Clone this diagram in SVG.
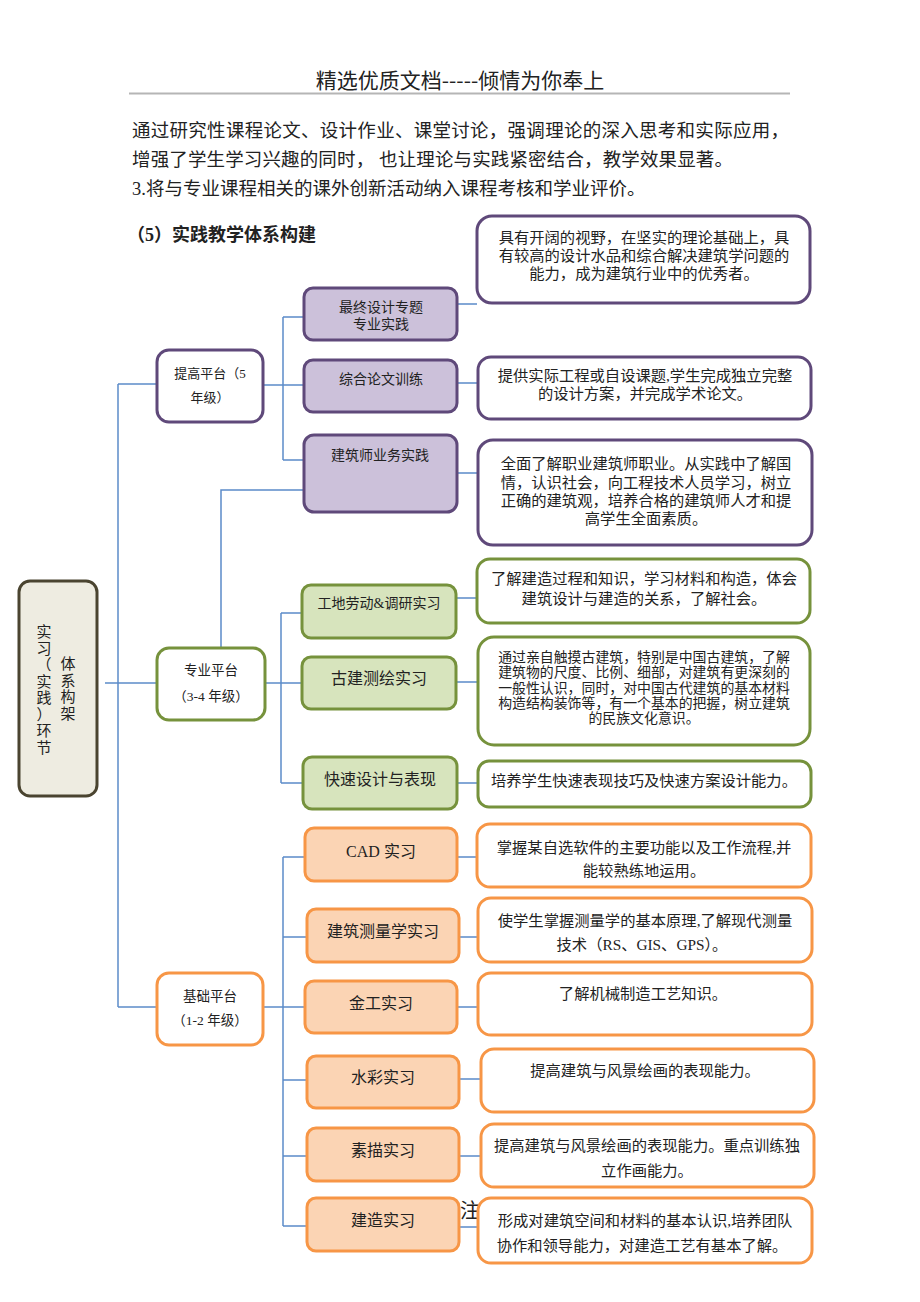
<svg xmlns="http://www.w3.org/2000/svg" width="920" height="1302" viewBox="0 0 920 1302">
<style>
.conn{fill:none;stroke:#5b8bc9;stroke-width:1.5}
.pur{fill:#ccc1da;stroke:#5f497a;stroke-width:3}
.purw{fill:#fff;stroke:#5f497a;stroke-width:3}
.grn{fill:#d7e4bd;stroke:#76923c;stroke-width:3}
.grnw{fill:#fff;stroke:#76923c;stroke-width:3}
.org{fill:#fbd4b4;stroke:#f79646;stroke-width:3}
.orgw{fill:#fff;stroke:#f79646;stroke-width:3}
.root{fill:#eeece1;stroke:#4a4430;stroke-width:3}
text{font-family:"Liberation Serif","Noto Sans CJK SC",serif;fill:#222}
.c{text-anchor:middle;dominant-baseline:central}
.s{font-family:"Noto Sans CJK SC","Liberation Sans",sans-serif}
.f13{font-size:13px}.f14{font-size:14px}.f15{font-size:15.3px}.f16{font-size:16px}
</style>
<rect width="920" height="1302" fill="#fff"/>
<g id="header">
<text x="460" y="88" text-anchor="middle" class="s" font-size="21" fill="#333">精选优质文档-----倾情为你奉上</text>
<line x1="129" y1="93.5" x2="790" y2="93.5" stroke="#b5b5b5" stroke-width="1.8"/>
</g>
<g id="body-text" font-size="18.5">
<text x="132" y="137" textLength="657" lengthAdjust="spacing">通过研究性课程论文、设计作业、课堂讨论，强调理论的深入思考和实际应用，</text>
<text x="132" y="166" xml:space="preserve" textLength="601" lengthAdjust="spacing">增强了学生学习兴趣的同时， 也让理论与实践紧密结合，教学效果显著。</text>
<text x="132" y="195">3.将与专业课程相关的课外创新活动纳入课程考核和学业评价。</text>
<text x="127" y="241" font-size="18" font-weight="bold">（5）实践教学体系构建</text>
</g>
<g id="connectors" class="conn">
<path d="M105,683H157"/>
<path d="M118,384V1007"/>
<path d="M118,384H157"/>
<path d="M118,1007H157"/>
<path d="M263,385H283"/>
<path d="M283,317V460"/>
<path d="M283,317H304M283,385H304M283,460H304"/>
<path d="M457,304H477M457,383H477M457,473H477"/>
<path d="M304,490H221V648"/>
<path d="M265,683H281"/>
<path d="M281,613V783"/>
<path d="M281,613H302M281,683H302M281,783H302"/>
<path d="M456,598H477M456,682H477M456,783H477"/>
<path d="M263,1007H283"/>
<path d="M283,857V1226"/>
<path d="M283,857H305M283,937H307M283,1007H305M283,1080H307M283,1156H307M283,1226H307"/>
<path d="M457,857H477M459,937H478M457,1007H478M459,1079H481M459,1156H481M459,1227H478"/>
</g>
<g id="root">
<rect class="root" x="19" y="581" width="78" height="215" rx="11"/>
<text class="c" font-size="15"><tspan x="44" y="632">实</tspan><tspan x="44" y="648.5">习</tspan><tspan x="44" y="665">（</tspan><tspan x="44" y="681.5">实</tspan><tspan x="44" y="698">践</tspan><tspan x="44" y="714.5">）</tspan><tspan x="44" y="731">环</tspan><tspan x="44" y="747.5">节</tspan></text>
<text class="c" font-size="15"><tspan x="68" y="664">体</tspan><tspan x="68" y="680.5">系</tspan><tspan x="68" y="697">构</tspan><tspan x="68" y="713.5">架</tspan></text>
</g>
<g id="tigao">
<rect class="purw" x="157" y="350" width="106" height="72" rx="12"/>
<text class="c f13" x="210" y="373">提高平台（5</text>
<text class="c f13" x="210" y="397">年级）</text>
</g>
<g id="zuizhong">
<rect class="pur" x="304" y="288" width="153" height="52" rx="9"/>
<text class="c f14" x="381" y="307">最终设计专题</text>
<text class="c f14" x="381" y="324">专业实践</text>
</g>
<g id="zonghe">
<rect class="pur" x="304" y="360" width="153" height="52" rx="9"/>
<text class="c f14" x="381" y="379">综合论文训练</text>
</g>
<g id="jianzhushi">
<rect class="pur" x="304" y="435" width="153" height="77" rx="10"/>
<text class="c f14" x="380" y="455">建筑师业务实践</text>
</g>
<g id="desc-zuizhong">
<rect class="purw" x="477" y="216" width="333" height="87" rx="15"/>
<text class="c f15" x="644" y="237">具有开阔的视野，在坚实的理论基础上，具</text>
<text class="c f15" x="644" y="255">有较高的设计水品和综合解决建筑学问题的</text>
<text class="c f15" x="644" y="273">能力，成为建筑行业中的优秀者。</text>
</g>
<g id="desc-zonghe">
<rect class="purw" x="478" y="357" width="333" height="62" rx="13"/>
<text class="c f15" x="645" y="375">提供实际工程或自设课题,学生完成独立完整</text>
<text class="c f15" x="645" y="393">的设计方案，并完成学术论文。</text>
</g>
<g id="desc-jianzhushi">
<rect class="purw" x="478" y="440" width="334" height="105" rx="15"/>
<text class="c f15" x="646" y="463">全面了解职业建筑师职业。从实践中了解国</text>
<text class="c f15" x="646" y="482">情，认识社会，向工程技术人员学习，树立</text>
<text class="c f15" x="646" y="500">正确的建筑观，培养合格的建筑师人才和提</text>
<text class="c f15" x="646" y="518">高学生全面素质。</text>
</g>
<g id="zhuanye">
<rect class="grnw" x="157" y="648" width="108" height="72" rx="12"/>
<text class="c" font-size="13.5" x="211" y="670">专业平台</text>
<text class="c" font-size="13.5" x="211" y="696">（3-4 年级）</text>
</g>
<g id="gongdi">
<rect class="grn" x="302" y="585" width="154" height="53" rx="9"/>
<text class="c f14" x="379" y="603">工地劳动&amp;调研实习</text>
</g>
<g id="gujian">
<rect class="grn" x="302" y="657" width="154" height="52" rx="9"/>
<text class="c f16" x="379" y="678">古建测绘实习</text>
</g>
<g id="kuaisu">
<rect class="grn" x="303" y="757" width="154" height="52" rx="9"/>
<text class="c f16" x="380" y="779">快速设计与表现</text>
</g>
<g id="desc-gongdi">
<rect class="grnw" x="477" y="559" width="333" height="64" rx="13"/>
<text class="c f15" x="644" y="578">了解建造过程和知识，学习材料和构造，体会</text>
<text class="c f15" x="644" y="598">建筑设计与建造的关系，了解社会。</text>
</g>
<g id="desc-gujian">
<rect class="grnw" x="478" y="637" width="332" height="108" rx="16"/>
<text class="c" font-size="13.9" x="644" y="657">通过亲自触摸古建筑，特别是中国古建筑，了解</text>
<text class="c" font-size="13.9" x="644" y="672">建筑物的尺度、比例、细部，对建筑有更深刻的</text>
<text class="c" font-size="13.9" x="644" y="688">一般性认识，同时，对中国古代建筑的基本材料</text>
<text class="c" font-size="13.9" x="644" y="703">构造结构装饰等，有一个基本的把握，树立建筑</text>
<text class="c" font-size="13.9" x="644" y="718">的民族文化意识。</text>
</g>
<g id="desc-kuaisu">
<rect class="grnw" x="478" y="761" width="333" height="46" rx="11"/>
<text class="c f15" x="644" y="780">培养学生快速表现技巧及快速方案设计能力。</text>
</g>
<g id="jichu">
<rect class="orgw" x="157" y="973" width="106" height="72" rx="12"/>
<text class="c" font-size="13.5" x="210" y="996">基础平台</text>
<text class="c" font-size="13.5" x="210" y="1020">（1-2 年级）</text>
</g>
<text id="zhu" x="460" y="1218" font-size="20">注</text>
<g id="cad">
<rect class="org" x="305" y="828" width="152" height="53" rx="9"/>
<text class="c f16" x="381" y="851">CAD 实习</text>
</g>
<g id="celiang">
<rect class="org" x="307" y="909" width="152" height="53" rx="9"/>
<text class="c f16" x="383" y="931">建筑测量学实习</text>
</g>
<g id="jingong">
<rect class="org" x="305" y="981" width="152" height="52" rx="9"/>
<text class="c f16" x="381" y="1003">金工实习</text>
</g>
<g id="shuicai">
<rect class="org" x="307" y="1056" width="152" height="52" rx="9"/>
<text class="c f16" x="383" y="1077">水彩实习</text>
</g>
<g id="sumiao">
<rect class="org" x="307" y="1128" width="152" height="53" rx="9"/>
<text class="c f16" x="383" y="1150">素描实习</text>
</g>
<g id="jianzao">
<rect class="org" x="307" y="1198" width="152" height="53" rx="9"/>
<text class="c f16" x="383" y="1220">建造实习</text>
</g>
<g id="desc-cad">
<rect class="orgw" x="477" y="824" width="334" height="63" rx="13"/>
<text class="c f15" x="644" y="847">掌握某自选软件的主要功能以及工作流程,并</text>
<text class="c f15" x="644" y="870">能较熟练地运用。</text>
</g>
<g id="desc-celiang">
<rect class="orgw" x="478" y="898" width="334" height="64" rx="13"/>
<text class="c f15" x="645" y="920">使学生掌握测量学的基本原理,了解现代测量</text>
<text class="c f15" x="642" y="944">技术（RS、GIS、GPS）。</text>
</g>
<g id="desc-jingong">
<rect class="orgw" x="478" y="973" width="334" height="62" rx="13"/>
<text class="c f15" x="643" y="993">了解机械制造工艺知识。</text>
</g>
<g id="desc-shuicai">
<rect class="orgw" x="481" y="1049" width="333" height="63" rx="13"/>
<text class="c f15" x="645" y="1070">提高建筑与风景绘画的表现能力。</text>
</g>
<g id="desc-sumiao">
<rect class="orgw" x="481" y="1124" width="333" height="63" rx="13"/>
<text class="c f15" x="647" y="1145">提高建筑与风景绘画的表现能力。重点训练独</text>
<text class="c f15" x="647" y="1170">立作画能力。</text>
</g>
<g id="desc-jianzao">
<rect class="orgw" x="478" y="1198" width="334" height="65" rx="13"/>
<text class="c f15" x="645" y="1220">形成对建筑空间和材料的基本认识,培养团队</text>
<text class="c f15" x="642" y="1245">协作和领导能力，对建造工艺有基本了解。</text>
</g>
</svg>
